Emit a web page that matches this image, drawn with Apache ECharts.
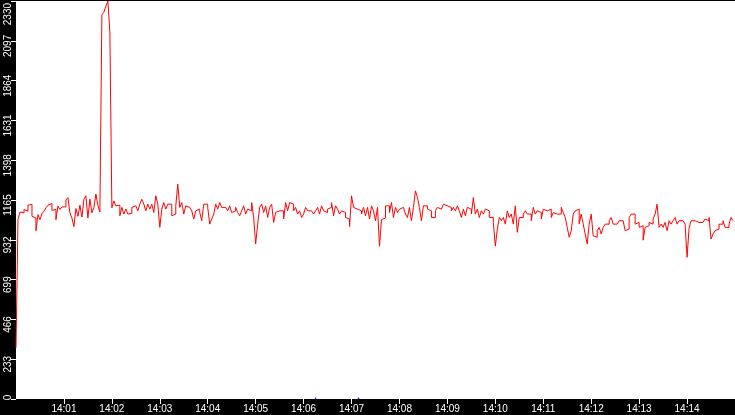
<!DOCTYPE html>
<html>
<head>
<meta charset="utf-8">
<script src="https://cdn.jsdelivr.net/npm/echarts@6/dist/echarts.min.js"></script>
<style>
html,body{margin:0;padding:0;background:#000;}
#c{width:735px;height:415px;}
</style>
</head>
<body>
<div id="c"></div>
<script>
// x axis: seconds after 14:00:00, tick every minute
const tickLabels = ['14:01','14:02','14:03','14:04','14:05','14:06','14:07','14:08','14:09','14:10','14:11','14:12','14:13','14:14'];
const yMax = 2330;
const yStep = 233;
const sampleStepSeconds = 2.5;
const seriesValues = [
  300,1050,1095,1090,1110,1100,1135,1140,1070,1060,985,1080,1050,1085,1100,1120,1135,1145,1105,1110,1050,1130,1110,1125,1125,1165,1180,1090,1060,1010,1115,1070,1135,1065,1170,1190,1060,1170,1090,1120,1200,1135,1095,
  2250,2265,2300,2330,2150,
  1120,1160,1131,1135,1073,1122,1083,1112,1083,1087,1122,1131,1131,1102,
  1141,1170,1141,1102,1141,1112,1141,1092,1190,1141,
  1005,1112,1151,1112,1141,1141,1073,1083,1131,1258,
  1122,1150,1083,1131,1122,1112,1102,1054,1102,1112,
  1092,1044,1141,1141,1122,1024,1054,1083,1141,1112,
  1150,1122,1122,1122,1102,1131,1092,1102,1122,1092,
  1073,1102,1131,1083,1112,1102,1150,1063,908,1024,
  1122,1141,1092,1131,1063,1122,1141,1034,1092,1102,
  1092,1102,1054,1150,1102,1150,1141,1102,1122,1083,
  1102,1063,1083,1122,1102,1102,1112,1083,1102,1122,
  1083,1131,1102,1092,1112,1122,1150,1073,1131,1112,
  1083,1102,1092,1063,1054,1010,1190,1122,1112,1102,
  1102,1083,1122,1073,1122,1054,1131,1102,1044,
  1122,895,1050,1060,1131,1131,1092,1150,1063,1122,
  1092,1112,1122,1112,1083,1063,1122,1044,1122,1219,
  1180,1122,1044,1131,1131,1112,1102,1063,1063,1102,
  1122,1112,1102,1141,1131,1131,1122,1102,1122,1102,
  1131,1102,1063,1112,1073,1122,1112,1083,1180,1083,
  1112,1063,1102,1083,1112,1102,1063,1063,1034,895,
  995,
  1063,1044,1063,1024,1102,1063,1083,1024,1131,976,
  1063,1063,1083,1102,1083,1083,1044,1122,1083,1102,
  1092,1054,1112,1102,1092,1112,1063,1092,1083,1083,
  1083,1122,1092,1063,1005,947,986,1083,1102,1112,
  1024,1083,1024,966,908,1024,1083,956,947,986,
  1005,966,1005,1024,1024,1044,1063,1024,
  1024,1024,1044,1044,1044,986,995,1063,1083,1083,
  1024,1034,1005,1015,930,1005,1015,1034,1024,1054,
  1083,1141,1005,1024,1005,1034,986,1044,1024,1044,
  1063,1024,1044,1044,1044,1024,830,1000,1044,1044,
  1044,1034,1044,1034,1024,1054,1044,1063,937,966,
  986,995,1024,1024,1044,1005,1005,1024,1063,1044
];
const blueTimes = [375, 428.75];
const blueValues = [4, 4];

const lineData = seriesValues.map((v, i) => [i * sampleStepSeconds, v]);
const blueData = blueTimes.map((t, i) => [t, blueValues[i]]);

const chart = echarts.init(document.getElementById('c'), null, {renderer: 'canvas'});
const lab = {color: '#fff', fontSize: 10, fontFamily: 'Liberation Sans'};
chart.setOption({
  backgroundColor: '#000',
  animation: false,
  grid: {left: 16, right: 0, top: 0, bottom: 16, show: true, backgroundColor: '#fff', borderWidth: 0},
  xAxis: {
    type: 'value', min: 0, max: 900, interval: 60,
    axisLine: {show: false},
    axisTick: {show: true, length: 5, lineStyle: {color: '#fff', width: 1}},
    splitLine: {show: false},
    axisLabel: {
      show: true, color: '#fff', fontSize: 10, fontFamily: 'Liberation Sans', margin: 5,
      showMinLabel: false, showMaxLabel: false,
      formatter: v => { const k = Math.round(v / 60); return tickLabels[k - 1] || ''; }
    }
  },
  yAxis: {
    type: 'value', min: 0, max: yMax, interval: yStep,
    axisLine: {show: false},
    axisTick: {show: true, length: 5, lineStyle: {color: '#fff', width: 1}},
    splitLine: {show: false},
    axisLabel: {
      show: true, rotate: 90, margin: 3,
      color: '#fff', fontSize: 10, fontFamily: 'Liberation Sans',
      showMinLabel: true, showMaxLabel: true,
      formatter: v => v === 0 ? '{z|0}' : (v === yMax ? '{t|' + v + '}' : '{n|' + v + '}'),
      rich: {
        n: Object.assign({padding: [0, 10, 0, 0]}, lab),
        z: Object.assign({padding: [0, 0, 0, 3]}, lab),
        t: Object.assign({padding: [0, 26, 0, 0]}, lab)
      }
    }
  },
  series: [
    {
      type: 'line', data: lineData, showSymbol: false, symbol: 'none', sampling: 'none',
      step: 'end',
      lineStyle: {color: '#ff0000', width: 1}, silent: true
    },
    {
      type: 'scatter', data: blueData, symbol: 'rect', symbolSize: 1.5,
      itemStyle: {color: '#0000ff'}, silent: true
    }
  ]
});
</script>
</body>
</html>
